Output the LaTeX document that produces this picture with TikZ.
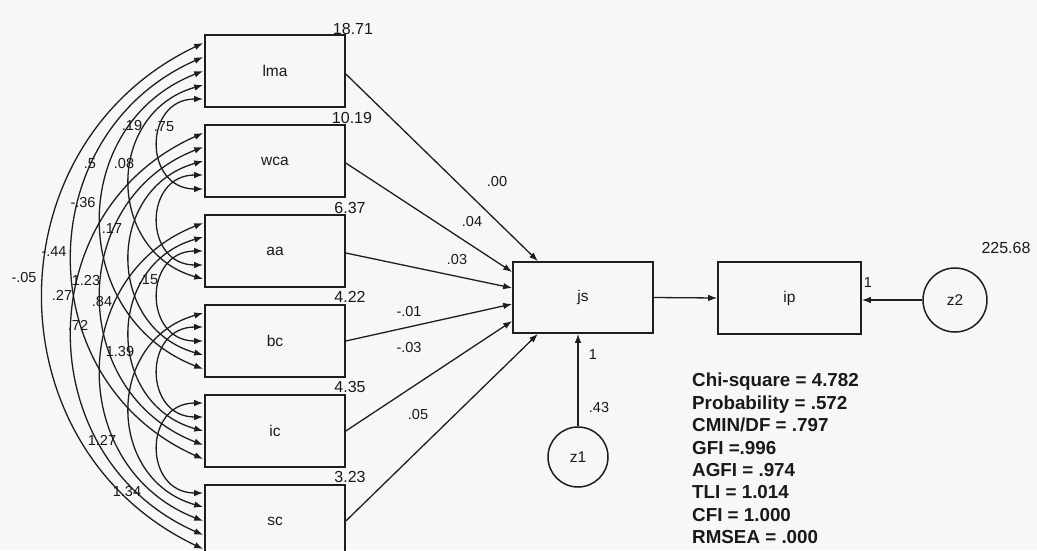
\documentclass[tikz,border=0pt]{standalone}
\usepackage{fontspec}
\setmainfont{Liberation Sans}
\usetikzlibrary{arrows.meta,calc}
\definecolor{lc}{RGB}{30,30,30}
\definecolor{tc}{RGB}{25,25,25}
\definecolor{bgc}{RGB}{247,247,245}
\begin{document}
\begin{tikzpicture}[x=1pt,y=-1pt,
  box/.style={draw=lc, line width=1.6pt, minimum width=140pt, minimum height=72pt, inner sep=0pt, text=tc, font=\fontsize{15.5}{18}\selectfont},
  circ/.style={circle, draw=lc, line width=1.5pt, minimum size=60pt, inner sep=0pt, text=tc, font=\fontsize{15.5}{18}\selectfont},
  cov/.style={draw=lc, line width=1.3pt, {Latex[length=9pt,width=6.5pt]}-{Latex[length=9pt,width=6.5pt]}},
  reg/.style={draw=lc, line width=1.3pt, -{Latex[length=9pt,width=6.5pt]}},
  lbl/.style={inner sep=0pt, text=tc, font=\fontsize{14.5}{16}\selectfont},
  vlbl/.style={inner sep=0pt, text=tc, font=\fontsize{16}{18}\selectfont},
  fit/.style={inner sep=0pt, text=tc, align=left, anchor=north west, font=\bfseries\fontsize{18.8}{22.4}\selectfont}
]
\fill[bgc] (0,0) rectangle (1037,550);
\useasboundingbox (0,0) rectangle (1037,550);
\clip (0,0) rectangle (1037,550);

% exogenous boxes
\node[box] (lma) at (275,71) {lma};
\node[box] (wca) at (275,161) {wca};
\node[box] (aa)  at (275,251) {aa};
\node[box] (bc)  at (275,341) {bc};
\node[box] (ic)  at (275,431) {ic};
\node[box] (sc)  at (275,521) {sc};

% endogenous
\node[box, minimum height=71pt] (js) at (583,297.5) {js};
\node[box, minimum width=143pt] (ip) at (789.5,298) {ip};
\node[circ] (z1) at (578,457) {z1};
\node[circ, minimum size=64pt] (z2) at (955,300) {z2};

% covariance endpoints
\foreach \b in {lma,wca,aa,bc,ic,sc}{
  \foreach \n/\o in {m2/-28,m1/-14,z/0,p1/14,p2/28}{
    \coordinate (\b-\n) at ($(\b.west)+(-1,\o)$);
  }
}

% covariance arcs
\draw[cov] (lma-p2) .. controls +(-60,0) and +(-60,0) .. (wca-p2);
\draw[cov] (wca-p1) .. controls +(-60,0) and +(-60,0) .. (aa-p1);
\draw[cov] (aa-z) .. controls +(-60,0) and +(-60,0) .. (bc-z);
\draw[cov] (bc-m1) .. controls +(-60,0) and +(-60,0) .. (ic-m1);
\draw[cov] (ic-m2) .. controls +(-60,0) and +(-60,0) .. (sc-m2);

\draw[cov] (lma-p1) .. controls +(-97.8,27.5) and +(-97.8,-27.5) .. (aa-p2);
\draw[cov] (wca-z) .. controls +(-97.8,27.5) and +(-97.8,-27.5) .. (bc-p1);
\draw[cov] (aa-m1) .. controls +(-97.8,27.5) and +(-97.8,-27.5) .. (ic-z);
\draw[cov] (bc-m2) .. controls +(-97.8,27.5) and +(-97.8,-27.5) .. (sc-m1);

\draw[cov] (lma-z) .. controls +(-136.1,52.8) and +(-136.1,-52.8) .. (bc-p2);
\draw[cov] (wca-m1) .. controls +(-136.1,52.8) and +(-136.1,-52.8) .. (ic-p1);
\draw[cov] (aa-m2) .. controls +(-136.1,52.8) and +(-136.1,-52.8) .. (sc-z);

\draw[cov] (lma-m1) .. controls +(-174.7,77.1) and +(-174.7,-77.1) .. (ic-p2);
\draw[cov] (wca-m2) .. controls +(-174.7,77.1) and +(-174.7,-77.1) .. (sc-p1);

\draw[cov] (lma-m2) .. controls +(-213.2,101.2) and +(-213.2,-101.2) .. (sc-p2);

% covariance labels
\node[lbl] (k1)  at (132,126) {.19};
\node[lbl] (k2)  at (164,127) {.75};
\node[lbl] (k3)  at (90,164)  {.5};
\node[lbl] (k4)  at (124,164) {.08};
\node[lbl] (k5)  at (83,203)  {-.36};
\node[lbl] (k6)  at (112,229) {.17};
\node[lbl] (k7)  at (54,252)  {-.44};
\node[lbl] (k8)  at (24,278)  {-.05};
\node[lbl] (k9)  at (86,281)  {1.23};
\node[lbl] (k10) at (148,280) {.15};
\node[lbl] (k11) at (62,295)  {.27};
\node[lbl] (k12) at (102,302) {.84};
\node[lbl] (k13) at (78,325)  {.72};
\node[lbl] (k14) at (120,352) {1.39};
\node[lbl] (k15) at (102,440) {1.27};
\node[lbl] (k16) at (127,491) {1.34};

% variances
\node[vlbl] (v1) at (353,29)  {18.71};
\node[vlbl] (v2) at (352,118) {10.19};
\node[vlbl] (v3) at (350,208) {6.37};
\node[vlbl] (v4) at (350,297) {4.22};
\node[vlbl] (v5) at (350,387) {4.35};
\node[vlbl] (v6) at (350,477) {3.23};
\node[vlbl] (v7) at (1006,248) {225.68};

% regression paths
\coordinate (jsT) at ($(js.north)+(-45,0)$);
\coordinate (jsB) at ($(js.south)+(-45,0)$);
\coordinate (jsL1) at ($(js.west)+(0,-25.5)$);
\coordinate (jsL2) at ($(js.west)+(0,-9.5)$);
\coordinate (jsL3) at ($(js.west)+(0,6.5)$);
\coordinate (jsL4) at ($(js.west)+(0,23.5)$);
\draw[reg] ($(lma.east)+(0,3)$) -- (jsT);
\draw[reg] ($(wca.east)+(0,2)$) -- (jsL1);
\draw[reg] ($(aa.east)+(0,2)$) -- (jsL2);
\draw[reg] (bc.east) -- (jsL3);
\draw[reg] (ic.east) -- (jsL4);
\draw[reg] (sc.east) -- (jsB);
\draw[reg] (js.east) -- (ip.west);
\draw[reg] (z1.north) -- (z1.north |- js.south);
\draw[reg] (z2.west) -- (z2.west -| ip.east);

% path labels
\node[lbl] (p1) at (497,182) {.00};
\node[lbl] (p2) at (472,222) {.04};
\node[lbl] (p3) at (457,260) {.03};
\node[lbl] (p4) at (409,312) {-.01};
\node[lbl] (p5) at (409,348) {-.03};
\node[lbl] (p6) at (418,414) {.05};
\node[lbl] (p7) at (593,355) {1};
\node[lbl] (p8) at (599,407) {.43};
\node[lbl] (p9) at (868,283) {1};

% fit statistics
\node[fit] (stats) at (692,373) {Chi-square = 4.782\\Probability = .572\\CMIN/DF = .797\\GFI =.996\\AGFI = .974\\TLI = 1.014\\CFI = 1.000\\RMSEA = .000};
\end{tikzpicture}
\end{document}
